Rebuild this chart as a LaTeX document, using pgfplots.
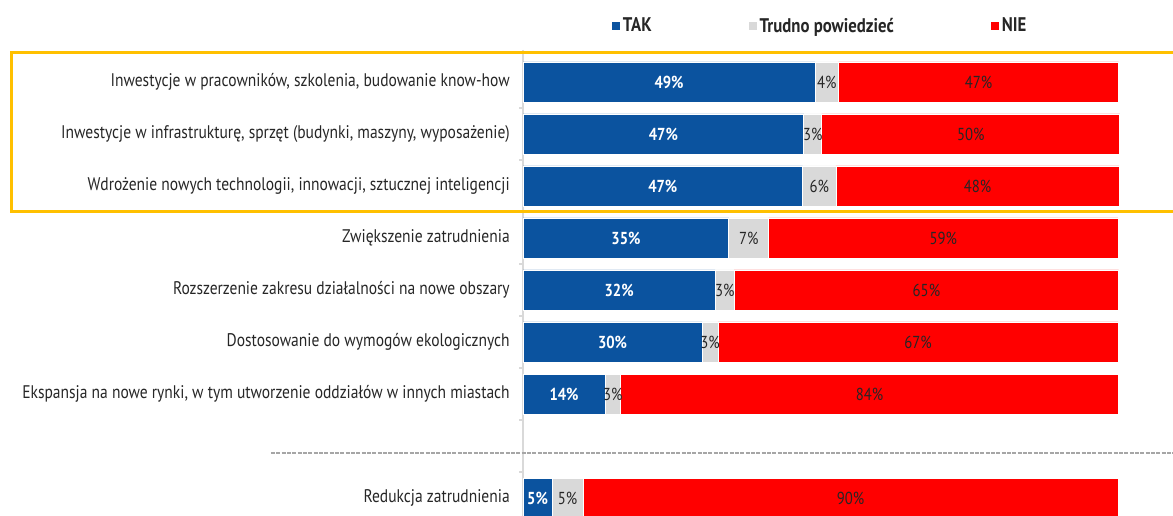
\documentclass[border=0pt]{standalone}
\usepackage{fontspec}
\setmainfont{PT Sans}[FakeStretch=0.85]
\usepackage{pgfplots}
\usepackage{pgfplotstable}
\pgfplotsset{compat=1.18}
\definecolor{tak}{HTML}{0B539F}
\definecolor{trudno}{HTML}{D9D9D9}
\definecolor{nie}{HTML}{FF0000}
\definecolor{ramka}{HTML}{FFC000}
\definecolor{txt}{HTML}{262626}
\pgfplotstableread{
y tak trudno nie
82 49.1 3.9 47.1
134 47.2 3.0 50.1
186 47.0 5.6 47.6
238 34.6 6.7 58.7
290 32.3 3.2 64.6
342 30.1 2.7 67.2
394 13.8 2.6 83.7
498 4.9 5.2 89.9
}\data
\begin{document}
\begin{tikzpicture}
\begin{axis}[
  at={(392.25pt,0pt)}, anchor=south west,
  scale only axis, width=446.25pt, height=349.5pt,
  xmin=0, xmax=100, ymin=50, ymax=516, y dir=reverse,
  xbar stacked, bar width=30pt,
  clip=false,
  axis x line=none, axis y line*=left,
  y axis line style={draw=gray!30, line width=1pt, -},
  ytick={82,134,186,238,290,342,394,498},
  yticklabels={{Inwestycje w pracowników, szkolenia, budowanie know-how},
    {Inwestycje w infrastrukturę, sprzęt (budynki, maszyny, wyposażenie)},
    {Wdrożenie nowych technologii, innowacji, sztucznej inteligencji},
    {Zwiększenie zatrudnienia},
    {Rozszerzenie zakresu działalności na nowe obszary},
    {Dostosowanie do wymogów ekologicznych},
    {Ekspansja na nowe rynki, w tym utworzenie oddziałów w innych miastach},
    {Redukcja zatrudnienia}},
  major tick length=0pt,
  minor ytick={108,160,212,264,316,368,420,472},
  minor tick length=3pt, tick align=outside,
  minor tick style={draw=gray!30, line width=0.8pt},
  yticklabel style={font=\fontsize{13.7}{15}\selectfont, text=txt, anchor=east, inner sep=0pt, xshift=-9.75pt},
  /pgf/number format/assume math mode=true,
  point meta=explicit,
  nodes near coords={\pgfmathprintnumber[fixed,precision=0]{\pgfplotspointmeta}\%},
  every node near coord/.append style={anchor=center, inner sep=0pt, font=\fontsize{13}{15}\selectfont, text=txt},
  legend columns=3,
  legend style={at={(axis cs:14.96,26)}, anchor=west, draw=none, fill=none, inner sep=0pt,
    font=\bfseries\fontsize{14.8}{16}\selectfont, text=txt,
    /tikz/every even column/.append style={column sep=71pt}},
  legend image code/.code={\fill[#1, draw=none] (0pt,-3pt) rectangle (6pt,3pt);},
]
\addplot[fill=tak, draw=white, line width=0.6pt, every node near coord/.append style={text=white, font=\bfseries\fontsize{13}{15}\selectfont}] table[x=tak, y=y, meta=tak]{\data};
\addlegendentry{TAK}
\addplot[fill=trudno, draw=white, line width=0.6pt] table[x=trudno, y=y, meta=trudno]{\data};
\addlegendentry{Trudno powiedzieć}
\addplot[fill=nie, draw=white, line width=0.6pt] table[x=nie, y=y, meta=nie]{\data};
\addlegendentry{NIE}
\draw[ramka, line width=2.25pt] (axis cs:-85.97,52.5) rectangle (axis cs:110.5,212);
\draw[gray!70, line width=1pt, dash pattern=on 3pt off 1pt] (axis cs:-42.35,453) -- (axis cs:110.5,453);
\end{axis}
\pgfresetboundingbox
\path[use as bounding box] (0,0) rectangle (879.75pt,387pt);
\end{tikzpicture}
\end{document}
